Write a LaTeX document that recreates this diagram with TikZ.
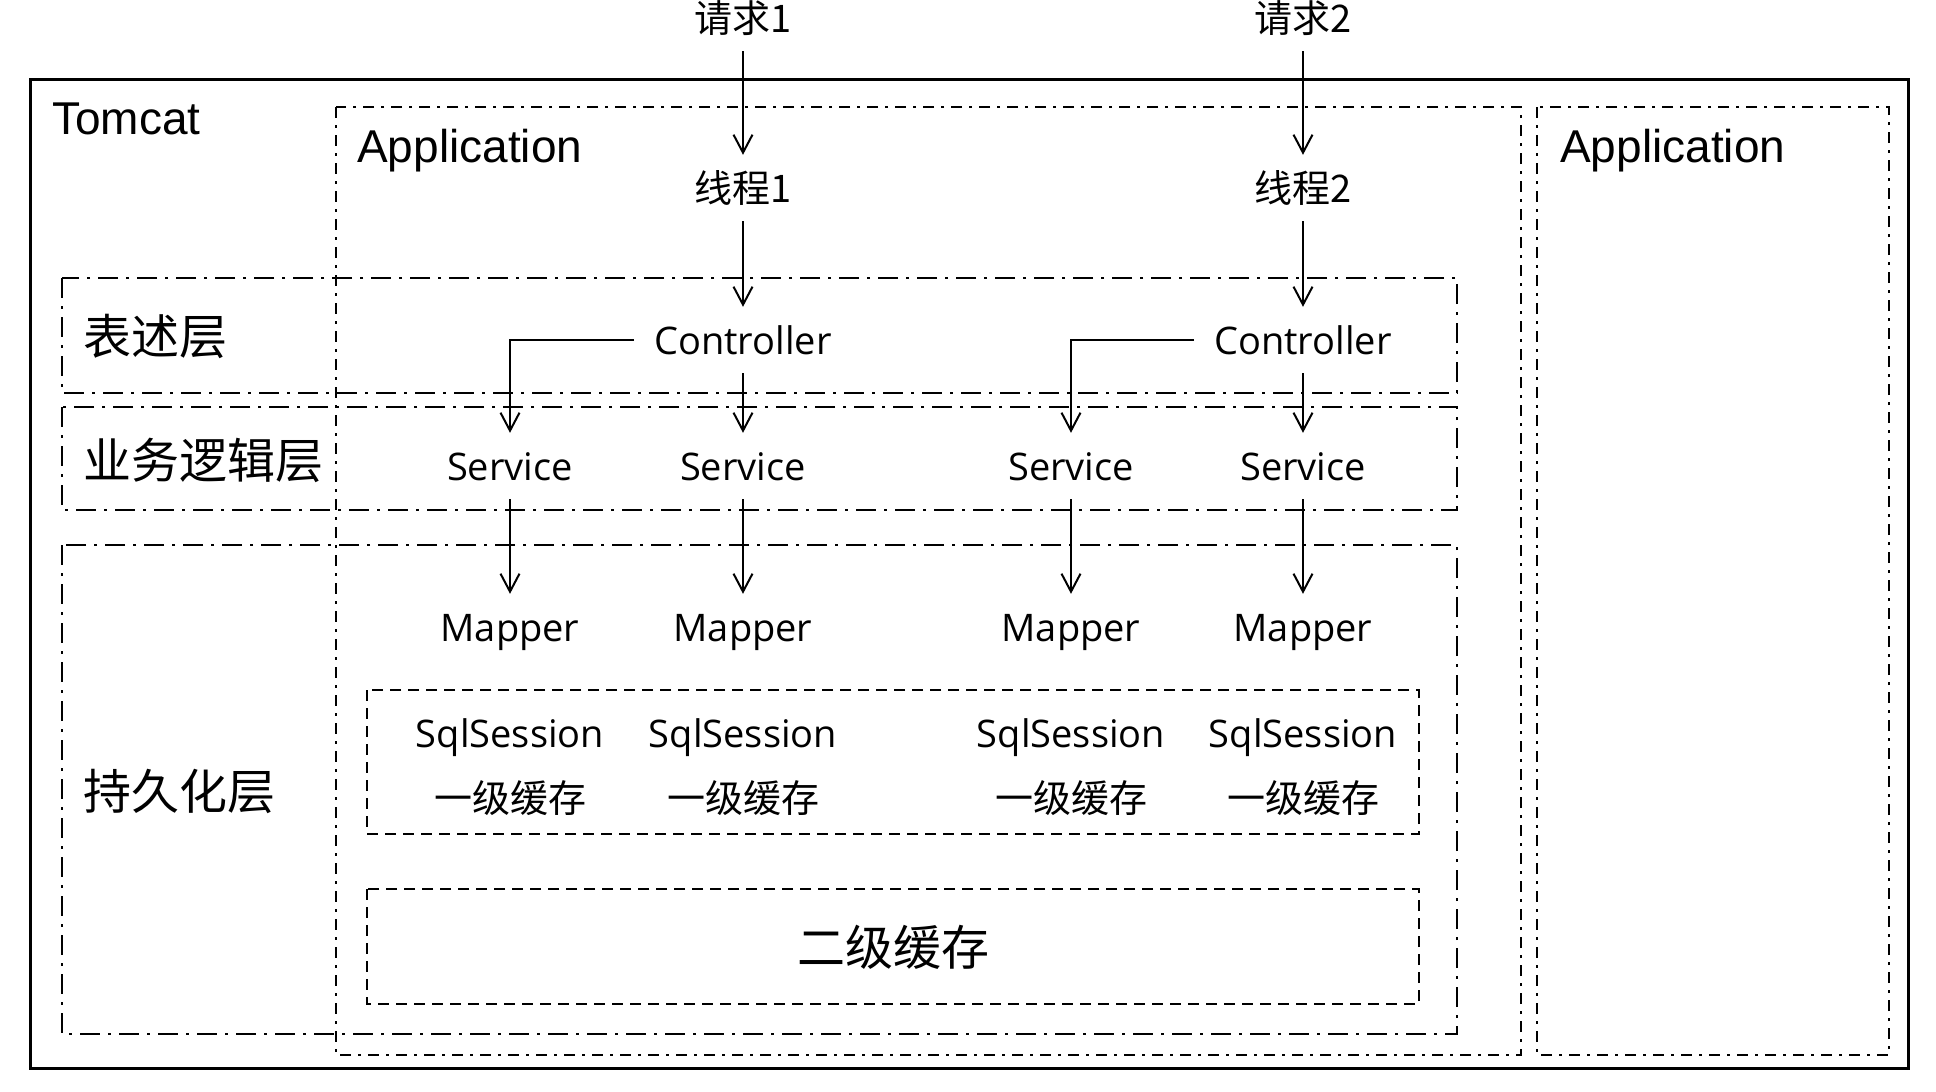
\documentclass[tikz,border=0pt]{standalone}
\usepackage{fontspec}
\setmainfont{Open Sans}
\newfontfamily\cjk{Noto Sans CJK SC}
\newfontfamily\arialf{Liberation Sans}
\usetikzlibrary{arrows.meta}

\begin{document}
\begin{tikzpicture}[x=1pt,y=-1pt,
    tomcatbox/.style={draw,line width=3pt},
    appbox/.style={draw,line width=2.5pt,dash pattern=on 11pt off 7pt on 3pt off 7pt},
    layerbox/.style={draw,line width=2.5pt,dash pattern=on 20pt off 8pt on 3pt off 8pt},
    cachebox/.style={draw,line width=2.5pt,dash pattern=on 11pt off 7pt},
    lbl/.style={font=\fontsize{38}{44}\selectfont,text height=32pt,text depth=4pt,inner xsep=20pt,inner ysep=15pt},
    layerlbl/.style={font=\cjk\fontsize{48}{56}\selectfont,text height=40pt,text depth=4pt,inner sep=0pt},
    title/.style={font=\arialf\fontsize{46}{52}\selectfont,inner sep=0pt,anchor=base west},
    flow/.style={draw,line width=2pt,-{Straight Barb[length=18pt,width=19pt]}}]

      \useasboundingbox (0,0) rectangle (1936,1092);

      % boxes
      \draw[tomcatbox] (30,79) rectangle (1908,1068);
      \draw[appbox] (336,107) rectangle (1521,1055);
      \draw[appbox] (1537,107) rectangle (1889,1055);
      \draw[layerbox] (62,278) rectangle (1457,393);
      \draw[layerbox] (62,407) rectangle (1457,510);
      \draw[layerbox] (62,545) rectangle (1457,1034);
      \draw[cachebox] (367,690) rectangle (1419,834);
      \draw[cachebox] (367,889) rectangle (1419,1004);

      \node[title] (tomcat) at (52,134) {Tomcat};
      \node[title] (app1) at (357,162) {Application};
      \node[title] (app2) at (1560,162) {Application};

      \begin{scope}[every node/.style={layerlbl,anchor=west}]
        \node (pres) at (83,336) {表述层};
        \node (biz) at (83,460) {业务逻辑层};
        \node (pers) at (83,791) {持久化层};
      \end{scope}

      \foreach \i/\x in {1/743,2/1303}{
        \node[lbl] (req\i) at (\x,18) {\cjk 请求\i};
        \node[lbl] (thr\i) at (\x,188) {\cjk 线程\i};
        \node[lbl] (ctl\i) at (\x,340) {Controller};
        \draw[flow] (req\i) -- (thr\i);
        \draw[flow] (thr\i) -- (ctl\i);
      }

      \foreach \i/\x in {1/510,2/743,3/1071,4/1303}{
        \node[lbl] (svc\i) at (\x,466) {Service};
        \node[lbl] (map\i) at (\x,627) {Mapper};
        \node[lbl] (ses\i) at (\x,733) {SqlSession};
        \node[lbl] (one\i) at (\x,798) {\cjk 一级缓存};
        \draw[flow] (svc\i) -- (map\i);
      }

      \draw[flow] (ctl1.west) -| (svc1.north);
      \draw[flow] (ctl1) -- (svc2);
      \draw[flow] (ctl2.west) -| (svc3.north);
      \draw[flow] (ctl2) -- (svc4);

      \node[layerlbl] (two) at (893,947) {二级缓存};

    \end{tikzpicture}
\end{document}
